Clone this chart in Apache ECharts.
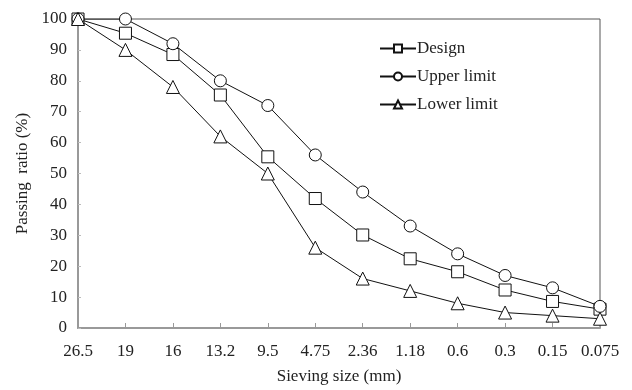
<!DOCTYPE html>
<html>
<head>
<meta charset="utf-8">
<script src="https://cdn.jsdelivr.net/npm/echarts@6/dist/echarts.min.js"></script>
<style>
  html, body { margin: 0; padding: 0; background: #fff; }
  #main { width: 632px; height: 390px; }
</style>
</head>
<body>
<div id="main"></div>
<script>
// sieve sizes (mm), coarse to fine
var sizes = ['26.5', '19', '16', '13.2', '9.5', '4.75', '2.36', '1.18', '0.6', '0.3', '0.15', '0.075'];
var design = [100, 95.4, 88.5, 75.4, 55.4, 41.9, 30.1, 22.4, 18.2, 12.3, 8.6, 6.1];
var upperLimit = [100, 100, 92, 80, 72, 56, 44, 33, 24, 17, 13, 7];
var lowerLimit = [100, 90, 78, 62, 50, 26, 16, 12, 8, 5, 4, 3];
var yTicks = [0, 10, 20, 30, 40, 50, 60, 70, 80, 90, 100];

var font = '"Liberation Serif", "DejaVu Serif", serif';

function makeSeries(name, data, symbol) {
    return {
        name: name,
        type: 'line',
        data: data,
        symbol: symbol,
        symbolSize: symbol === 'triangle' ? 13 : 12,
        showAllSymbol: true,
        lineStyle: { color: '#111', width: 1 },
        itemStyle: { color: '#fff', borderColor: '#111', borderWidth: 1 },
        emphasis: { disabled: true },
        animation: false
    };
}

var chart = echarts.init(document.getElementById('main'));
var option = {
    backgroundColor: '#fff',
    textStyle: { fontFamily: font },
    grid: {
        left: 78, right: 32, top: 19, bottom: 57,
        show: true,
        borderColor: '#555',
        borderWidth: 1,
        backgroundColor: 'transparent'
    },
    legend: {
        orient: 'vertical',
        left: 374,
        top: 35,
        itemGap: 11,
        itemWidth: 36,
        itemHeight: 10,
        textStyle: { fontFamily: font, fontSize: 17, color: '#222', padding: [0, 0, 0, -4] },
        data: ['Design', 'Upper limit', 'Lower limit']
    },
    xAxis: {
        type: 'category',
        data: sizes,
        boundaryGap: false,
        name: 'Sieving size (mm)',
        nameLocation: 'middle',
        nameGap: 40,
        nameTextStyle: { fontFamily: font, fontSize: 17, color: '#222' },
        axisLine: { lineStyle: { color: '#999', width: 2 } },
        axisTick: { inside: true, length: 5, interval: 0, lineStyle: { color: '#999' } },
        axisLabel: { fontFamily: font, fontSize: 17, color: '#222', margin: 15, interval: 0, hideOverlap: false },
        splitLine: { show: false }
    },
    yAxis: {
        type: 'value',
        min: yTicks[0],
        max: yTicks[yTicks.length - 1],
        interval: 10,
        name: 'Passing  ratio (%)',
        nameLocation: 'middle',
        nameGap: 45,
        nameTextStyle: { fontFamily: font, fontSize: 17, color: '#222' },
        axisLine: { show: true, lineStyle: { color: '#999', width: 2 } },
        axisTick: { show: true, inside: true, length: 3, lineStyle: { color: '#bbb' } },
        axisLabel: { fontFamily: font, fontSize: 17, color: '#222', margin: 11 },
        splitLine: { show: false }
    },
    series: [
        makeSeries('Design', design, 'rect'),
        makeSeries('Upper limit', upperLimit, 'circle'),
        makeSeries('Lower limit', lowerLimit, 'triangle')
    ]
};
chart.setOption(option);
</script>
</body>
</html>
